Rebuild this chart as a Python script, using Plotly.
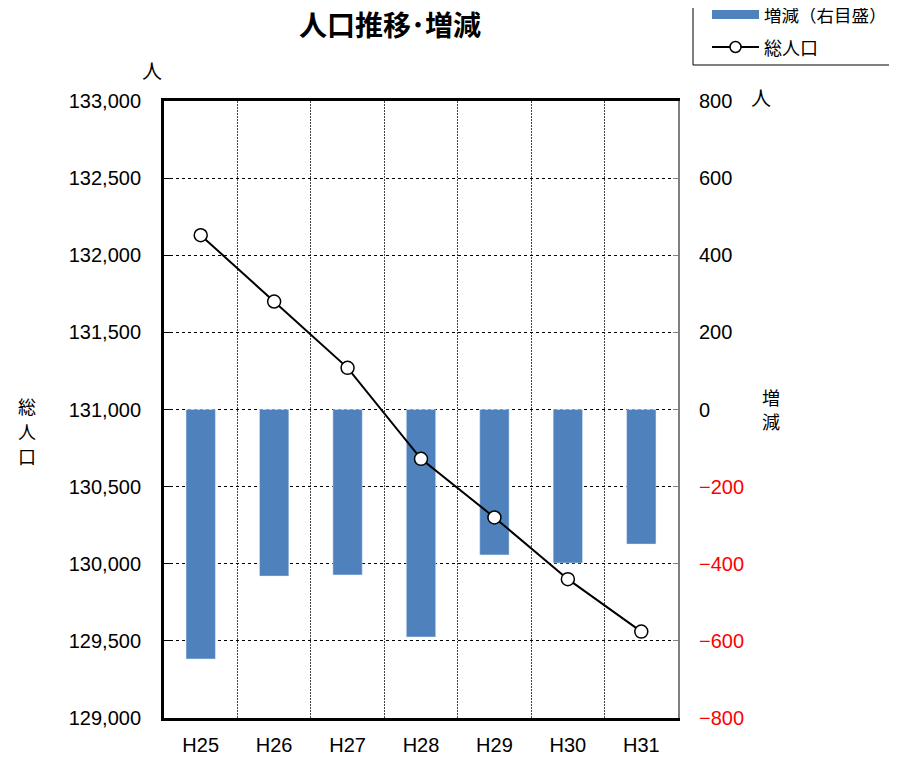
import plotly.graph_objects as go

categories = ["H25", "H26", "H27", "H28", "H29", "H30", "H31"]
total_pop = [132130, 131700, 131270, 130680, 130300, 129900, 129560]
change = [-647, -432, -429, -590, -377, -398, -349]

right_ticks = [800, 600, 400, 200, 0, -200, -400, -600, -800]
right_text = [str(v) if v >= 0 else "<span style='color:#FF0000'>\u2212%d</span>" % (-v) for v in right_ticks]
left_ticks = [129000, 129500, 130000, 130500, 131000, 131500, 132000, 132500, 133000]

FONT = "Liberation Sans, Noto Sans CJK JP, sans-serif"
JP = "Noto Sans CJK JP"
OFF = 8  # default page body margin
W, H = 897 - OFF, 758 - OFF
L, T = 164 - OFF, 101 - OFF
PW, PH = 514, 617
R, B = W - L - PW, H - T - PH


def px(x):
    return (x - OFF - L) / PW


def py(y):
    return (H - B - (y - OFF)) / PH


xpos = list(range(len(categories)))

fig = go.Figure()
fig.add_trace(go.Bar(
    x=xpos, y=change, name="増減（右目盛）", yaxis="y",
    marker=dict(color="#4F81BD"), width=0.4, showlegend=False,
))
fig.add_trace(go.Scatter(
    x=xpos, y=total_pop, name="総人口", yaxis="y2", mode="lines+markers",
    line=dict(color="black", width=2), showlegend=False,
    marker=dict(size=13, color="white", line=dict(color="black", width=1.5)),
))

shapes = [
    # legend box
    dict(type="rect", xref="paper", yref="paper", x0=px(693), x1=px(905), y0=py(65), y1=py(-2),
         line=dict(color="black", width=1), fillcolor="white", layer="above"),
    dict(type="rect", xref="paper", yref="paper", x0=px(712), x1=px(759), y0=py(19), y1=py(10),
         line=dict(width=0), fillcolor="#4F81BD", layer="above"),
    dict(type="line", xref="paper", yref="paper", x0=px(712), x1=px(759), y0=py(47), y1=py(47),
         line=dict(color="black", width=2), layer="above"),
    dict(type="circle", xref="paper", yref="paper", x0=px(730), x1=px(741), y0=py(52.5), y1=py(41.5),
         line=dict(color="black", width=1.5), fillcolor="white", layer="above"),
]


def ann(text, x, y, size=19, xanchor="center"):
    return dict(text=text, xref="paper", yref="paper", x=px(x), y=py(y), showarrow=False,
                font=dict(size=size, family=JP, color="black"), xanchor=xanchor, yanchor="middle")


annotations = [
    ann("増減（右目盛）", 762, 15, 17.5, "left"),
    ann("総人口", 762, 47, 18, "left"),
    ann("人", 152, 70, 20),
    ann("人", 761, 98, 20),
    ann("総", 27, 406, 18),
    ann("人", 27, 431, 18),
    ann("口", 27, 456, 18),
    ann("増", 771, 397, 18),
    ann("減", 771, 421, 18),
]

fig.update_layout(
    width=W, height=H,
    margin=dict(l=L, r=R, t=T, b=B, autoexpand=False),
    paper_bgcolor="white", plot_bgcolor="white",
    font=dict(family=FONT, size=20, color="black"),
    title=dict(text="<b>人口推移･増減</b>", x=(390 - OFF) / W, xanchor="center",
               y=1 - (26 - OFF) / H, yanchor="middle", font=dict(size=28, family=JP)),
    showlegend=False,
    bargap=0.6,
    xaxis=dict(
        range=[-0.5, 6.5], tickmode="array", tickvals=xpos, ticktext=categories,
        showgrid=False, showline=True, linecolor="black", linewidth=3, mirror=True,
        ticks="", zeroline=False, ticklabelstandoff=7,
        minor=dict(tickmode="array", tickvals=[0.5, 1.5, 2.5, 3.5, 4.5, 5.5],
                   showgrid=True, gridcolor="#444444", griddash="2px,1px", gridwidth=1, ticks=""),
    ),
    yaxis=dict(
        side="right", range=[-800, 800], tickmode="array", tickvals=right_ticks,
        ticktext=right_text, showgrid=True, gridcolor="black", griddash="dot", gridwidth=1,
        zeroline=False, showline=True, linecolor="#808080", linewidth=2,
        ticks="inside", ticklen=5, tickcolor="#808080", ticklabelstandoff=15,
    ),
    yaxis2=dict(
        side="left", overlaying="y", range=[129000, 133000], tickmode="array",
        tickvals=left_ticks, tickformat=",", showgrid=False, zeroline=False,
        showline=True, linecolor="black", linewidth=3,
        ticks="inside", ticklen=6, tickcolor="black", ticklabelstandoff=16,
    ),
    shapes=shapes,
    annotations=annotations,
)

fig.write_html("out.html")
